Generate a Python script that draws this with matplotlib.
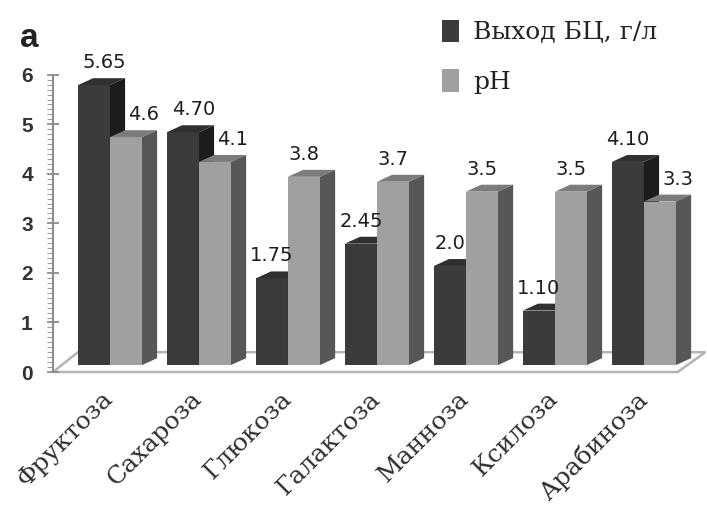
import matplotlib.pyplot as plt
from matplotlib.patches import Polygon
from matplotlib.ticker import FixedLocator
from matplotlib.transforms import ScaledTranslation
import numpy as np

sugars = ['Фруктоза', 'Сахароза', 'Глюкоза', 'Галактоза', 'Манноза', 'Ксилоза', 'Арабиноза']
bc_yield = [5.65, 4.70, 1.75, 2.45, 2.0, 1.10, 4.10]
ph = [4.6, 4.1, 3.8, 3.7, 3.5, 3.5, 3.3]
yield_text = ['5.65', '4.70', '1.75', '2.45', '2.0', '1.10', '4.10']
ph_text = ['4.6', '4.1', '3.8', '3.7', '3.5', '3.5', '3.3']

# colours: front, top, side
DARK = ('#3b3b3b', '#303030', '#1c1c1c')
LIGHT = ('#a0a0a0', '#7c7c7c', '#575757')

W = 0.36            # width of a bar front
DX, DY = 0.17, 0.14  # depth of the fake 3d box
BASE = 0.14         # bars stand a little behind the floor front edge

fig = plt.figure(figsize=(7.07, 5.09), dpi=100)
ax = fig.add_axes([53 / 707, 137 / 509, 654 / 707, 327 / 509])
ax.set_xlim(-0.64, -0.64 + 654 / 89)
ax.set_ylim(0, 6.6)

# floor
floor = Polygon([(-0.64, 0), (6.38, 0), (6.69, 0.4), (-0.36, 0.4)],
                closed=True, facecolor='white', edgecolor='#b4b4b4',
                lw=1.8, clip_on=False, zorder=1)
ax.add_patch(floor)


def box(x0, h, cols, z):
    front, top, side = cols
    b = ax.bar(x0, h, width=W, bottom=BASE, align='edge', color=front,
               zorder=z, linewidth=0)
    y1 = BASE + h
    ax.add_patch(Polygon([(x0, y1), (x0 + W, y1), (x0 + W + DX, y1 + DY),
                          (x0 + DX, y1 + DY)], closed=True, color=top,
                         lw=0, zorder=z))
    ax.add_patch(Polygon([(x0 + W, BASE), (x0 + W + DX, BASE + DY),
                          (x0 + W + DX, y1 + DY), (x0 + W, y1)], closed=True,
                         color=side, lw=0, zorder=z))
    return b


x = np.arange(len(sugars))
lbl = dict(ha='center', va='bottom', fontsize=14, family='DejaVu Sans',
           color='#1e1e1e', zorder=30)
for i in x:
    bd = box(i - W, bc_yield[i], DARK, 2 + 2 * i)
    bl = box(i, ph[i], LIGHT, 3 + 2 * i)
    crowded = bc_yield[i] > ph[i]
    ax.text(i - W / 2 + (0.12 if crowded and i < 2 else 0.0),
            BASE + bc_yield[i] + DY + 0.12, yield_text[i], **lbl)
    ax.text(i + W / 2 + (0.2 if crowded else 0.0),
            BASE + ph[i] + DY + 0.12, ph_text[i], **lbl)
    if i == 0:
        handles = [bd, bl]

# y axis on the front plane
for s in ['top', 'right', 'bottom']:
    ax.spines[s].set_visible(False)
ax.spines['left'].set_bounds(0, 6)
ax.spines['left'].set_color('#8c8c8c')
ax.spines['left'].set_linewidth(1.5)
ax.set_yticks(range(7))
ax.yaxis.set_minor_locator(FixedLocator(np.arange(0, 6.01, 0.1)))
ax.tick_params(axis='y', which='major', direction='inout', length=9,
               width=1.3, color='#8c8c8c', pad=10)
ax.tick_params(axis='y', which='minor', direction='out', length=4,
               width=0.8, color='#a0a0a0')
for t in ax.get_yticklabels():
    t.set_fontfamily('Liberation Sans')
    t.set_fontweight('bold')
    t.set_fontsize(15)
    t.set_color('#333333')

ax.set_xticks(x)
ax.set_xticklabels(sugars, rotation=45, ha='right', va='top',
                   rotation_mode='anchor', family='DejaVu Serif',
                   fontsize=18, color='#2e2e2e')
ax.tick_params(axis='x', length=0, pad=11)
shift = ScaledTranslation(-6 / 72, 0, fig.dpi_scale_trans)
for t in ax.get_xticklabels():
    t.set_transform(t.get_transform() + shift)

fig.legend(handles, ['Выход БЦ, г/л', 'pH'], loc='upper left',
           bbox_to_anchor=(419 / 707, 1 + 3 / 509), frameon=False,
           handlelength=0.7, handleheight=1.0, handletextpad=0.55,
           labelspacing=1.0, prop={'family': 'DejaVu Serif', 'size': 18},
           labelcolor='#222222')

fig.text(20 / 707, 1 - 47 / 509, 'a', fontsize=24, fontweight='bold',
         family='Liberation Sans', va='baseline', color='#222222')

fig.savefig('out.png', dpi=100)
